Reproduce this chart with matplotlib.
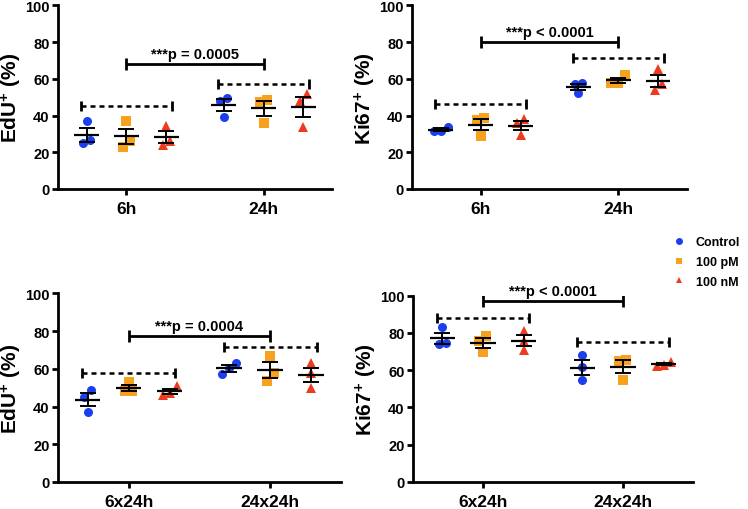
import matplotlib
matplotlib.use("Agg")
import matplotlib.pyplot as plt
from matplotlib.lines import Line2D
import numpy as np

plt.rcParams['font.family'] = ['Liberation Sans', 'DejaVu Sans']
plt.rcParams['font.weight'] = 'bold'
plt.rcParams['mathtext.fontset'] = 'custom'
plt.rcParams['mathtext.rm'] = 'Liberation Sans:bold'
plt.rcParams['mathtext.bf'] = 'Liberation Sans:bold'
plt.rcParams['mathtext.default'] = 'rm'

## Data ##
treatments = ['Control', '100 pM', '100 nM']
groups_top = ['6h', '24h']
groups_bot = ['6x24h', '24x24h']

# EdU top panel (6h, 24h), three replicates each
edu_a_control = [[37, 25, 26.5], [49.5, 48, 39]]
edu_a_pm = [[37, 26, 23], [48.5, 47.5, 36]]
edu_a_nm = [[34.5, 26, 24], [52, 48, 34]]

# Ki67 top panel
ki_a_control = [[34, 31.5, 31.5], [57.5, 57, 52.5]]
ki_a_pm = [[38.5, 37.5, 29], [62, 58, 57.5]]
ki_a_nm = [[38, 36, 29.5], [65.5, 57, 54]]

# EdU bottom panel (6x24h, 24x24h)
edu_b_control = [[49, 45, 37], [63, 60.5, 57]]
edu_b_pm = [[53, 48, 48], [67, 57.5, 53.5]]
edu_b_nm = [[51, 47, 46], [63, 57.5, 50]]

# Ki67 bottom panel
ki_b_control = [[83, 74, 74.5], [68, 61.5, 54.5]]
ki_b_pm = [[78.5, 75.5, 70], [65.5, 65, 55]]
ki_b_nm = [[81, 75.5, 71], [64.5, 63, 62.5]]

p_labels = ['***p = 0.0005', '***p < 0.0001', '***p = 0.0004', '***p < 0.0001']
bar_y = [68, 80, 77.5, 97.3]
dash_y = [[45.2, 57.4], [46.4, 71.4], [58, 71.3], [88.1, 74.9]]

colors = ['#1a3ff0', '#f7a11c', '#ee3a1e']
markers = ['o', 's', '^']
offsets = [-0.29, 0, 0.29]


def spread(vals):
    # spread overlapping points sideways, like a scatter dot plot
    vals = np.asarray(vals, dtype=float)
    order = np.argsort(vals)
    off = np.zeros(len(vals))
    clusters = [[order[0]]]
    for i in order[1:]:
        if vals[i] - vals[clusters[-1][-1]] < 4.5:
            clusters[-1].append(i)
        else:
            clusters.append([i])
    for c in clusters:
        n = len(c)
        for k, idx in enumerate(c):
            off[idx] = (k - (n - 1) / 2) * 0.05
    return off


def panel(ax, series, groups, ylabel, plabel, by, dy):
    for t, data in enumerate(series):
        for g, vals in enumerate(data):
            xc = g + offsets[t]
            xs = xc + spread(vals)
            ax.plot(xs, vals, linestyle='none', marker=markers[t],
                    color=colors[t], ms=6.5 if t < 2 else 7, mew=0, zorder=3)
            m = np.mean(vals)
            sem = np.std(vals, ddof=1) / np.sqrt(len(vals))
            ax.hlines(m, xc - 0.09, xc + 0.09, color='black', lw=1.6, zorder=4)
            ax.errorbar(xc, m, yerr=sem, fmt='none', ecolor='black',
                        elinewidth=1.4, capsize=6, capthick=1.4, zorder=4)
    # comparison bar between time points
    ax.plot([0, 1], [by, by], color='black', lw=2, marker='|', ms=9,
            mew=2, solid_capstyle='butt')
    ax.text(0.5, by + 1.5, plabel, ha='center', va='bottom', fontsize=10.5,
            fontweight='bold')
    # dashed bars within each time point
    for g in range(2):
        ax.plot([g - 0.33, g + 0.33], [dy[g], dy[g]], color='black', lw=1.8,
                linestyle=(0, (2, 1.6)))
        ax.plot([g - 0.33, g + 0.33], [dy[g], dy[g]], linestyle='none',
                color='black', marker='|', ms=7, mew=2)
    ax.set_xlim(-0.5, 1.5)
    ax.set_ylim(0, 100)
    ax.set_xticks([0, 1])
    ax.set_xticklabels(groups, fontsize=12.5, fontweight='bold')
    ax.set_yticks(range(0, 101, 20))
    ax.set_yticklabels([str(v) for v in range(0, 101, 20)], fontsize=10.5,
                       fontweight='bold')
    ax.spines['top'].set_visible(False)
    ax.spines['right'].set_visible(False)
    ax.spines['left'].set_linewidth(2)
    ax.spines['bottom'].set_linewidth(2)
    ax.tick_params(axis='both', width=2, length=4, direction='out')
    ax.tick_params(axis='x', pad=5)
    ax.tick_params(axis='y', pad=2)
    ax.set_ylabel(ylabel, fontsize=15, fontweight='bold', labelpad=0.5)


fig = plt.figure(figsize=(7.48, 5.10), dpi=100)
ax1 = fig.add_axes([0.0775, 0.6275, 0.3664, 0.3598])
ax2 = fig.add_axes([0.5508, 0.6275, 0.3676, 0.3598])
ax3 = fig.add_axes([0.0775, 0.0530, 0.3783, 0.3699])
ax4 = fig.add_axes([0.5521, 0.0530, 0.3743, 0.3652])

panel(ax1, [edu_a_control, edu_a_pm, edu_a_nm], groups_top,
      r'EdU$^{+}$ (%)', p_labels[0], bar_y[0], dash_y[0])
panel(ax2, [ki_a_control, ki_a_pm, ki_a_nm], groups_top,
      r'Ki67$^{+}$ (%)', p_labels[1], bar_y[1], dash_y[1])
panel(ax3, [edu_b_control, edu_b_pm, edu_b_nm], groups_bot,
      r'EdU$^{+}$ (%)', p_labels[2], bar_y[2], dash_y[2])
panel(ax4, [ki_b_control, ki_b_pm, ki_b_nm], groups_bot,
      r'Ki67$^{+}$ (%)', p_labels[3], bar_y[3], dash_y[3])

handles = [Line2D([], [], linestyle='none', marker=markers[i], color=colors[i],
                  ms=5, mew=0) for i in range(3)]
fig.legend(handles, treatments, loc='center left',
           bbox_to_anchor=(0.885, 1 - 263 / 510), frameon=False,
           handlelength=1.0, handletextpad=0.8, labelspacing=0.6,
           prop={'weight': 'bold', 'size': 9})

fig.savefig('out.png', dpi=100)
